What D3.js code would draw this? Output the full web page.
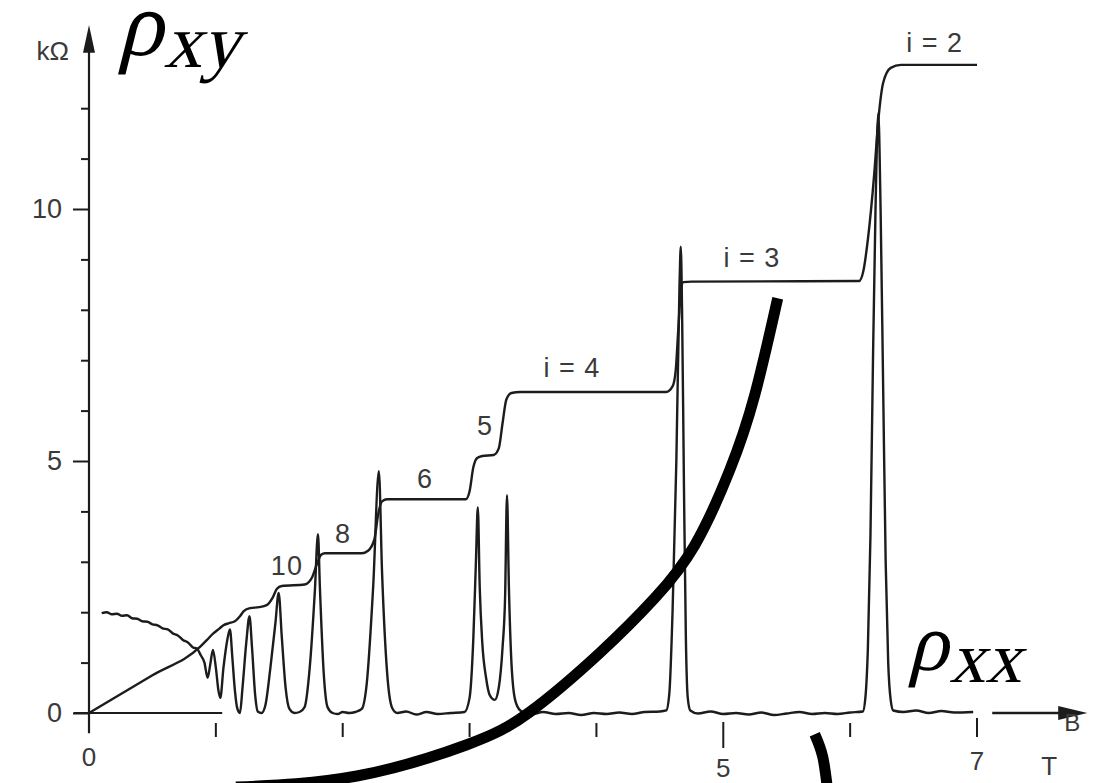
<!DOCTYPE html>
<html>
<head>
<meta charset="utf-8">
<script src="https://cdn.jsdelivr.net/npm/d3@7"></script>
<style>
    body { margin: 0; background: #fff; }
    svg { display: block; }
    .lbl { font-family: "Liberation Sans", Arial, sans-serif; fill: #3a3a3a; }
    .math { font-family: "Liberation Serif", "DejaVu Serif", serif; font-style: normal; fill: #000; }
</style>
</head>
<body>
<div id="chart"></div>
<script>
// Hall resistivity rho_xy  [B (T), kOhm]
const rhoXY = [
    [0, 0], [0.5, 0.75], [0.875, 1.31], [0.93, 1.45], [0.98, 1.58], [1.03, 1.68], [1.06, 1.74],
    [1.10, 1.78], [1.15, 1.82], [1.19, 1.92], [1.22, 2.02], [1.27, 2.08], [1.34, 2.10], [1.40, 2.14],
    [1.45, 2.30], [1.48, 2.46], [1.52, 2.52], [1.70, 2.55], [1.76, 2.70], [1.80, 2.98], [1.83, 3.14],
    [1.86, 3.17], [2.15, 3.17], [2.20, 3.22], [2.25, 3.45], [2.28, 3.95], [2.31, 4.20], [2.35, 4.24],
    [2.97, 4.24], [3.00, 4.40], [3.03, 4.88], [3.06, 5.06], [3.10, 5.10], [3.19, 5.12], [3.23, 5.25],
    [3.26, 5.75], [3.29, 6.22], [3.33, 6.35], [3.40, 6.37], [4.55, 6.37], [4.60, 6.48], [4.625, 6.8],
    [4.645, 7.6], [4.665, 8.35], [4.685, 8.55], [4.75, 8.56], [6.07, 8.57], [6.105, 8.78], [6.14, 9.4],
    [6.19, 10.7], [6.22, 11.7], [6.26, 12.5], [6.32, 12.8], [6.40, 12.86], [7.0, 12.86]
];

// longitudinal resistivity rho_xx  [B (T), same axis]
const rhoXX = [
    [0.10, 1.98], [0.14, 2.00], [0.18, 1.96], [0.22, 1.97], [0.26, 1.93], [0.30, 1.94], [0.34, 1.88],
    [0.38, 1.87], [0.42, 1.82], [0.46, 1.81], [0.50, 1.76], [0.54, 1.74], [0.58, 1.68], [0.62, 1.66],
    [0.66, 1.58], [0.70, 1.54], [0.74, 1.45], [0.78, 1.40], [0.82, 1.30], [0.85, 1.28], [0.88, 1.15],
    [0.91, 1.00], [0.935, 0.70], [0.955, 0.95], [0.977, 1.25], [1.00, 0.90], [1.02, 0.45], [1.035, 0.30],
    [1.06, 0.90], [1.09, 1.45], [1.111, 1.66], [1.13, 1.10], [1.15, 0.45], [1.17, 0.08], [1.19, 0.0],
    [1.21, 0.50], [1.24, 1.40], [1.265, 1.92], [1.285, 1.30], [1.31, 0.35], [1.33, 0.03], [1.36, 0.0],
    [1.39, 0.15], [1.43, 0.90], [1.47, 1.80], [1.495, 2.38], [1.52, 1.50], [1.55, 0.50], [1.58, 0.08],
    [1.62, 0.0], [1.66, 0.02], [1.70, 0.12], [1.74, 0.90], [1.78, 2.40], [1.805, 3.55], [1.82, 2.50],
    [1.85, 0.80], [1.88, 0.12], [1.92, 0.0], [1.96, -0.02], [2.00, 0.02], [2.05, 0.0], [2.10, 0.02],
    [2.15, 0.08], [2.19, 0.60], [2.24, 2.50], [2.285, 4.80], [2.31, 2.80], [2.35, 0.80], [2.39, 0.10],
    [2.43, 0.0], [2.50, 0.03], [2.58, -0.03], [2.66, 0.02], [2.75, -0.02], [2.85, 0.0], [2.96, 0.02],
    [3.00, 0.30], [3.03, 1.50], [3.05, 3.00], [3.065, 4.08], [3.08, 2.50], [3.10, 1.40], [3.13, 0.70],
    [3.16, 0.35], [3.199, 0.26], [3.23, 0.50], [3.26, 1.30], [3.28, 2.30], [3.295, 4.32], [3.31, 2.50],
    [3.33, 1.00], [3.36, 0.25], [3.40, 0.05], [3.48, -0.03], [3.58, 0.02], [3.68, -0.02], [3.78, 0.0],
    [3.88, -0.04], [3.98, 0.0], [4.08, -0.02], [4.18, 0.01], [4.28, -0.02], [4.38, 0.02], [4.50, 0.03],
    [4.55, 0.05], [4.575, 0.40], [4.60, 2.00], [4.63, 5.00], [4.655, 8.50], [4.665, 9.25], [4.675, 8.00],
    [4.69, 4.50], [4.705, 1.50], [4.72, 0.30], [4.74, 0.05], [4.80, -0.01], [4.90, 0.03], [5.00, -0.02],
    [5.10, 0.0], [5.20, -0.03], [5.30, 0.01], [5.40, -0.04], [5.50, -0.01], [5.60, 0.02], [5.70, -0.02],
    [5.80, 0.0], [5.90, -0.02], [6.00, 0.01], [6.10, 0.03], [6.12, 0.30], [6.14, 1.30], [6.16, 3.50],
    [6.18, 7.00], [6.20, 10.0], [6.222, 11.9], [6.24, 10.0], [6.26, 6.50], [6.28, 3.00], [6.30, 1.00],
    [6.32, 0.25], [6.34, 0.05], [6.42, 0.02], [6.52, 0.05], [6.62, 0.0], [6.72, 0.04], [6.82, 0.01],
    [6.97, 0.02]
];

// hand drawn overlay strokes [B, R]
const bigStroke = [
    [1.158, -1.47], [2.112, -1.25], [2.979, -0.63], [3.475, 0.02], [4.026, 1.19],
    [4.460, 2.28], [4.775, 3.33], [5.051, 4.82], [5.248, 6.31], [5.429, 8.23]
];
const smallStroke = [[5.721, -0.42], [5.784, -0.87], [5.823, -1.55]];

const yMajorTicks = [0, 5, 10];
const yMinorTicks = [1, 2, 3, 4, 6, 7, 8, 9, 11, 12];
const xTicks = [1, 2, 3, 4, 5, 6, 7];
const xTickLabels = [0, 5, 7];

const plateauLabels = [
    { t: '10', b: 1.560, r: 2.74 },
    { t: '8', b: 2.002, r: 3.37 },
    { t: '6', b: 2.648, r: 4.46 },
    { t: '5', b: 3.121, r: 5.52 },
    { t: 'i = 4', b: 3.806, r: 6.67 },
    { t: 'i = 3', b: 5.225, r: 8.85 },
    { t: 'i = 2', b: 6.667, r: 13.12 }
];

const width = 1110, height = 783;

const svg = d3.select('#chart').append('svg')
    .attr('width', width)
    .attr('height', height);

const x = d3.scaleLinear().domain([0, 7]).range([89, 977]);
const y = d3.scaleLinear().domain([0, 10]).range([713, 209]);

const ink = '#1c1c1c';

// y axis with arrow
svg.append('line')
    .attr('x1', x(0)).attr('x2', x(0))
    .attr('y1', y(-0.4)).attr('y2', y(13.2))
    .attr('stroke', ink).attr('stroke-width', 2.2);
svg.append('path')
    .attr('d', `M${x(0)},${y(13.65)} L${x(0) - 6},${y(13.1)} L${x(0) + 6},${y(13.1)} Z`)
    .attr('fill', ink);

const yMajor = svg.append('g')
    .attr('transform', `translate(${x(0)},0)`)
    .call(d3.axisLeft(y).tickValues(yMajorTicks).tickSize(16).tickPadding(11));
const yMinor = svg.append('g')
    .attr('transform', `translate(${x(0)},0)`)
    .call(d3.axisLeft(y).tickValues(yMinorTicks).tickSize(8).tickFormat(''));
[yMajor, yMinor].forEach(g => {
    g.select('.domain').remove();
    g.selectAll('line').attr('stroke', ink).attr('stroke-width', 2);
});
yMajor.selectAll('text')
    .attr('class', 'lbl')
    .style('font-size', '27px');

svg.append('text')
    .attr('class', 'lbl')
    .attr('x', x(0) - 20).attr('y', y(12.95))
    .attr('text-anchor', 'end')
    .style('font-size', '26px')
    .text('kΩ');

// x axis: short baseline, ticks below, arrow at the right
svg.append('line')
    .attr('x1', x(-0.12)).attr('x2', x(1.05))
    .attr('y1', y(0)).attr('y2', y(0))
    .attr('stroke', ink).attr('stroke-width', 2.2);

const tickSpan = v => v === 5 ? [9, 35] : v === 7 ? [5, 24] : [10, 24];
svg.append('g').selectAll('line')
    .data(xTicks)
    .join('line')
    .attr('x1', d => x(d)).attr('x2', d => x(d))
    .attr('y1', d => y(0) + tickSpan(d)[0])
    .attr('y2', d => y(0) + tickSpan(d)[1])
    .attr('stroke', ink).attr('stroke-width', 2);

const labelDrop = { 0: 53, 5: 64, 7: 57 };
svg.append('g').selectAll('text')
    .data(xTickLabels)
    .join('text')
    .attr('class', 'lbl')
    .attr('x', d => x(d)).attr('y', d => y(0) + labelDrop[d])
    .attr('text-anchor', 'middle')
    .style('font-size', '26px')
    .text(d => d);

svg.append('line')
    .attr('x1', x(7.12)).attr('x2', x(7.66))
    .attr('y1', y(0)).attr('y2', y(0))
    .attr('stroke', ink).attr('stroke-width', 2.4);
svg.append('path')
    .attr('d', `M${x(7.87)},${y(0)} L${x(7.64)},${y(0) - 7} L${x(7.64)},${y(0) + 7} Z`)
    .attr('fill', ink);

svg.append('text')
    .attr('class', 'lbl')
    .attr('x', x(7.75)).attr('y', y(-0.36))
    .attr('text-anchor', 'middle')
    .style('font-size', '24px')
    .text('B');
svg.append('text')
    .attr('class', 'lbl')
    .attr('x', x(7.57)).attr('y', y(-1.23))
    .attr('text-anchor', 'middle')
    .style('font-size', '26px')
    .text('T');

// curves
const line = d3.line()
    .x(d => x(d[0]))
    .y(d => y(d[1]))
    .curve(d3.curveMonotoneX);

[rhoXX, rhoXY].forEach(series => {
    svg.append('path')
        .datum(series)
        .attr('d', line)
        .attr('fill', 'none')
        .attr('stroke', ink)
        .attr('stroke-width', 2.4)
        .attr('stroke-linejoin', 'round');
});

// plateau labels
svg.append('g').selectAll('text')
    .data(plateauLabels)
    .join('text')
    .attr('class', 'lbl')
    .attr('x', d => x(d.b)).attr('y', d => y(d.r))
    .attr('text-anchor', 'middle')
    .style('font-size', '27px')
    .style('letter-spacing', '1px')
    .text(d => d.t);

// overlay strokes
const stroke = d3.line()
    .x(d => x(d[0]))
    .y(d => y(d[1]))
    .curve(d3.curveNatural);

[bigStroke, smallStroke].forEach(pts => {
    svg.append('path')
        .datum(pts)
        .attr('d', stroke)
        .attr('fill', 'none')
        .attr('stroke', '#000')
        .attr('stroke-width', 11);
});

// rho labels, slanted by hand so the serif face keeps its serifs
const rhoLabel = (b, r, size, subSize, sub) => {
    const t = svg.append('text')
        .attr('class', 'math')
        .attr('transform', `translate(${x(b)},${y(r)}) skewX(-14)`);
    t.append('tspan').style('font-size', size + 'px').text('ρ');
    t.append('tspan').attr('dx', 4).attr('dy', 12).style('font-size', subSize + 'px').text(sub);
};

rhoLabel(0.22, 13.06, 92, 76, 'xy');
rhoLabel(6.45, 0.85, 82, 72, 'xx');
</script>
</body>
</html>
